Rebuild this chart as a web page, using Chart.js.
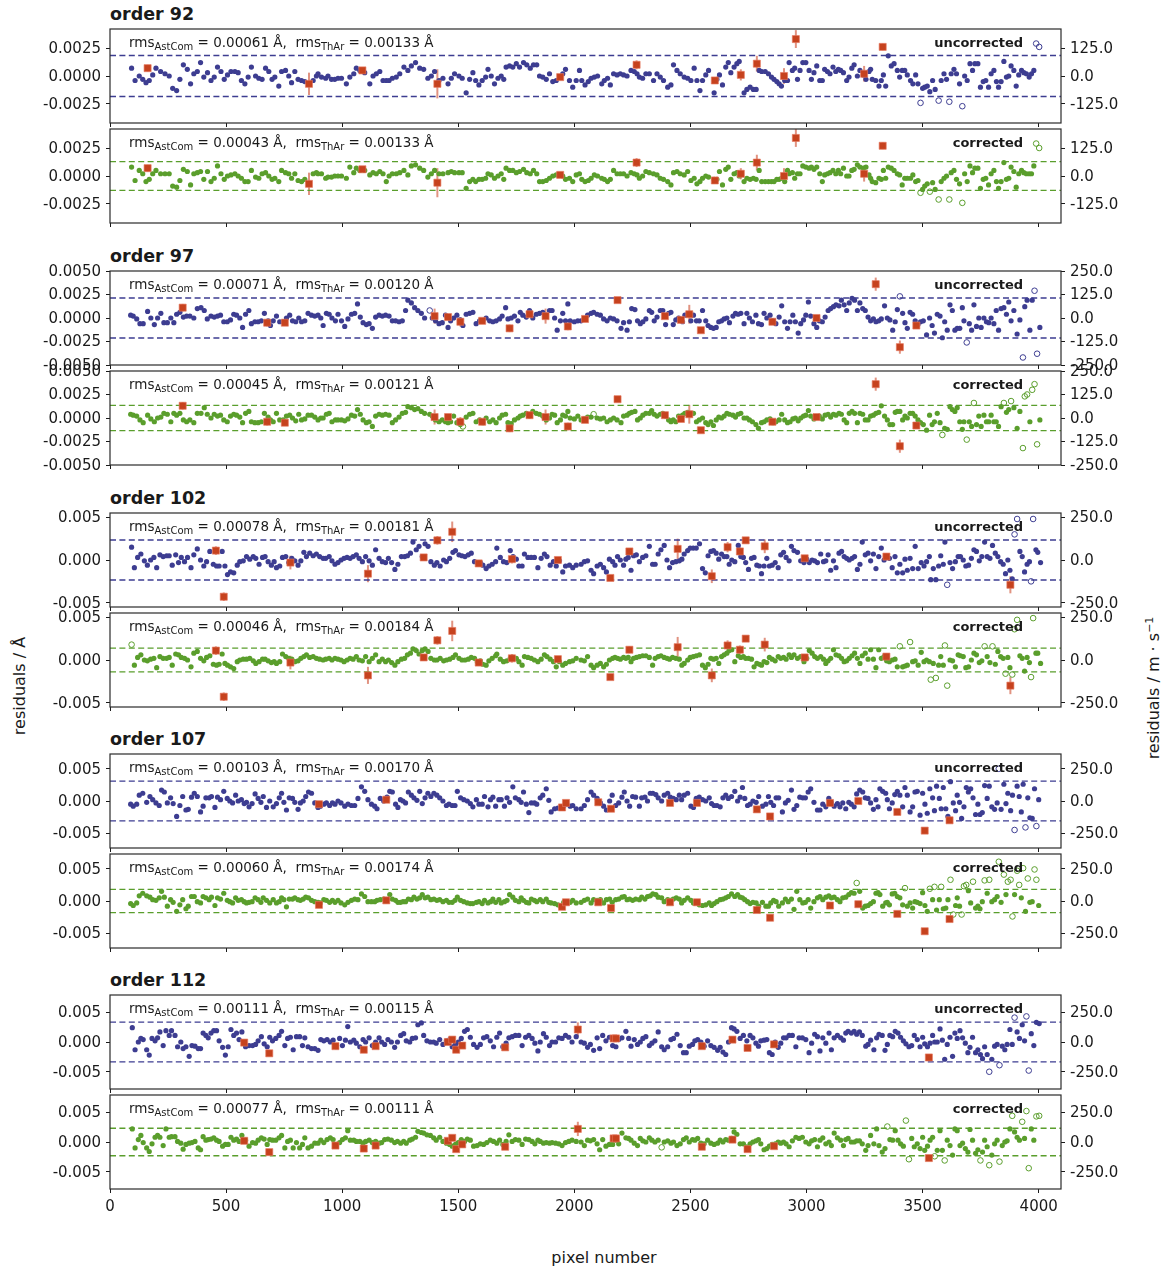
<!DOCTYPE html>
<html lang="en">
<head>
<meta charset="UTF-8">
<title>AstCom / ThAr wavelength residuals</title>
<script src="https://cdn.jsdelivr.net/npm/chart.js@4.4.0/dist/chart.umd.min.js"></script>
<style>
body { margin: 0; background: #fff; font-family: 'DejaVu Sans', sans-serif; color: #1a1a1a; }
#fig { position: relative; width: 1161px; height: 1270px; overflow: hidden; }
#fig canvas { position: absolute; left: 0; }
.order-title { position: absolute; left: 110px; font-weight: bold; font-size: 17.5px; line-height: 20px; white-space: nowrap; }
.ylab { position: absolute; font-size: 16px; line-height: 20px; white-space: nowrap; transform: translate(-50%, -50%) rotate(-90deg); }
.xlab { position: absolute; font-size: 16px; line-height: 20px; white-space: nowrap; transform: translateX(-50%); }
</style>
</head>
<body>
<div id="fig">
  <div class="ylab" style="left:20px; top:686px;">residuals / Å</div>
  <div class="ylab" style="left:1152px; top:688px;">residuals / m · s<sup style="font-size:11px">−1</sup></div>
  <div class="xlab" style="left:604px; top:1248px;">pixel number</div>
</div>

<script>
// ---- data --------------------------------------------------------------
// x in detector pixels, residuals in units of 1e-4 Å
const orders = [92, 97, 102, 107, 112];
const pixelTicks = [0, 500, 1000, 1500, 2000, 2500, 3000, 3500, 4000];
const rmsAstComUnc = [0.00061, 0.00071, 0.00078, 0.00103, 0.00111];
const rmsAstComCor = [0.00043, 0.00045, 0.00046, 0.00060, 0.00077];
const rmsThArUnc = [0.00133, 0.00120, 0.00181, 0.00170, 0.00115];
const rmsThArCor = [0.00133, 0.00121, 0.00184, 0.00174, 0.00111];
const yLimits = [0.0042, 0.0050, 0.0055, 0.0073, 0.0079];
const leftTicks = [
  [-0.0025, 0, 0.0025],
  [-0.005, -0.0025, 0, 0.0025, 0.005],
  [-0.005, 0, 0.005],
  [-0.005, 0, 0.005],
  [-0.005, 0, 0.005]
];
const leftDecimals = [4, 4, 3, 3, 3];
const rightTicks = [
  [-125, 0, 125],
  [-250, -125, 0, 125, 250],
  [-250, 0, 250],
  [-250, 0, 250],
  [-250, 0, 250]
];
const MS_PER_ANGSTROM = 50000;

// order 92
const ast92X = [93,108,126,141,155,169,184,198,218,237,255,270,287,301,316,333,347,361,376,390,
  404,420,435,449,463,478,492,506,521,538,552,566,581,595,609,627,641,655,670,684,
  698,710,727,739,756,770,782,796,810,825,839,875,889,896,911,929,939,954,968,982,
  997,1018,1033,1050,1061,1076,1097,1119,1133,1147,1162,1176,1190,1202,1216,1233,1248,1266,1283,1298,
  1316,1334,1351,1369,1384,1398,1417,1434,1456,1470,1484,1503,1517,1534,1549,1563,1575,1589,1603,1618,
  1628,1642,1656,1671,1685,1696,1706,1721,1735,1750,1764,1781,1795,1810,1824,1838,1850,1864,1879,1893,
  1907,1922,1950,1962,1979,1993,2008,2022,
  2032,2046,2060,2072,2086,2100,2118,2129,2143,2155,2169,2184,2198,2212,2227,2244,2258,2270,2280,2294,
  2308,2323,2341,2356,2370,2384,2402,2416,2427,2442,2456,2473,2488,2502,2516,2528,2541,2552,2566,2578,
  2602,2614,2625,2638,2652,2663,2674,2688,2700,2710,2731,2743,2757,2771,2783,2796,2807,2822,2836,2849,
  2860,2872,2882,2892,2906,2918,2925,2939,2949,2961,2972,2984,2997,3011,3021,3032,3044,3057,3068,3078,
  3090,3101,3114,3126,3137,3147,3159,3173,3183,3195,3205,3219,3230,3245,3256,3269,3276,3283,3298,3312,
  3322,3331,3341,3352,3365,3377,3391,3401,3412,3423,3434,3448,3458,3470,3480,3491,3500,3509,3520,3531,
  3543,3554,3569,3580,3592,3603,3615,3623,3635,3646,3659,3671,3681,3692,3704,3715,3725,3738,3749,3761,
  3772,3784,3795,3807,3818,3827,3838,3850,3861,3871,3881,3893,3903,3914,3926,3936,3947,3959,3969,3979,
  3989,4002];
const ast92Unc = [7,-4,0,-3,-6,-4,1,7,4,2,0,-11,-13,-3,10,6,-7,2,4,12,
  -1,3,-4,-1,8,4,-3,1,4,4,3,-4,-7,-1,8,0,-2,-3,7,4,
  -3,-1,-9,4,5,0,-6,4,-3,-4,-5,-4,0,2,-1,-2,0,-3,-3,-2,
  -2,-7,-1,2,7,5,3,-7,0,2,4,-4,-4,-4,-2,-1,2,8,5,9,
  12,7,6,-2,0,4,-4,-2,-7,-2,2,0,-2,-15,-3,3,-4,-8,-4,-1,
  6,0,-7,-2,0,-3,8,9,8,11,8,12,10,7,10,10,0,-1,-3,2,
  -5,-4,2,6,-4,-10,-4,5,
  -4,-8,-5,-2,-1,0,-7,-4,-2,-8,2,1,2,1,0,5,4,2,-1,-2,
  2,2,-4,2,-1,-4,-10,-8,10,5,2,-1,-2,-4,7,-4,-13,-4,1,5,
  -15,-3,1,-8,8,12,3,8,11,13,-15,-12,-10,-12,-12,5,4,4,2,-1,
  -3,-5,-7,-9,-4,-4,12,5,7,-3,5,12,12,5,-3,3,9,-4,-4,6,
  4,2,8,4,6,5,3,-4,-1,7,10,0,5,1,-3,4,6,-3,-4,-9,
  -4,1,-9,18,9,11,5,-1,5,5,1,-4,-7,1,-7,-24,-11,-10,-9,-14,
  -4,-12,-22,-4,2,-3,-23,2,6,2,-7,-27,0,-4,11,5,11,11,-10,-5,
  -4,-10,2,5,-5,-10,-5,13,-1,0,9,5,-9,1,5,3,2,-1,2,5,
  29,26];
const ast92Cor = [8,-4,5,2,-5,-3,2,5,2,2,2,-9,-10,-4,6,4,-8,2,3,4,
  -3,4,-5,-2,9,2,-3,0,1,2,0,-2,-5,-5,5,-1,-2,2,3,0,
  -3,-2,-5,5,3,2,-2,2,-4,-5,-3,2,3,2,2,-2,-1,-1,0,0,
  0,-2,8,3,7,5,5,1,3,2,4,2,-5,0,2,2,3,5,1,9,
  10,7,5,-1,2,5,2,2,3,4,3,3,3,-11,-5,-3,-5,-3,-3,-2,
  2,1,-2,0,2,-3,7,5,5,3,4,6,3,2,5,2,-5,-5,-4,-2,
  0,1,0,-3,-2,-5,1,2,
  -3,-5,-4,-2,1,0,-2,-3,-5,-3,5,2,2,2,0,3,2,1,-2,0,
  4,3,2,1,-2,-3,-5,-8,3,4,2,1,4,-4,-2,-7,-5,-2,0,-1,
  -3,-3,4,-8,6,8,-3,2,3,0,-5,-2,-3,-2,-3,5,-5,-5,-5,-5,
  -5,-3,-3,-2,-5,5,2,3,-2,2,2,9,8,7,8,6,8,2,-5,1,
  2,3,5,2,5,2,7,0,0,5,6,10,8,7,8,1,-2,-5,-6,-2,
  -3,5,-2,8,7,5,2,1,-8,-2,-2,-2,1,-5,-4,-15,-12,-9,-7,-14,
  -6,-12,-21,-5,-2,0,-21,3,5,-3,-7,-24,2,-5,9,3,7,7,-11,-3,
  -2,-8,2,5,-5,-11,-5,12,-3,-2,8,4,-10,2,5,3,2,2,2,9,
  29,25];
const thar92X   = [162, 857, 1087, 1410, 1939, 2268, 2605, 2717, 2786, 2903, 2954, 3248, 3328];
const thar92Unc = [7, -7, 5, -7, -1, 10, -4, 1, 11, 0, 33, 2, 26];
const thar92Cor = [7, -7, 6, -6, 1, 12, -4, 2, 12, 0, 34, 2, 27];
const thar92Err = [3, 10, 2, 13, 2, 4, 3, 5, 7, 7, 8, 7, 3];

// order 97
const ast97X = [89,100,115,129,143,162,176,191,205,219,232,247,262,275,287,301,316,330,344,361,
  376,392,406,419,435,449,463,476,490,505,519,533,545,559,571,584,598,609,624,638,
  652,665,681,691,703,717,731,746,760,774,786,800,813,825,839,853,868,882,896,908,
  918,932,944,956,971,982,997,1011,1025,1040,1054,1066,1078,1090,1104,1116,1130,1144,1159,1173,
  1187,1202,1216,1230,1245,1259,1273,1283,1298,1312,1326,1341,1355,1377,1388,1402,1417,1431,1445,1456,
  1467,1480,1494,1509,1520,1534,1549,1563,1577,1592,1606,1620,1635,1649,1663,1678,1689,1704,1714,1728,
  1742,1757,1767,1778,1793,1807,1821,1836,1850,1864,1879,1893,1904,1915,1926,1940,1950,1962,1972,1982,
  2000,2015,
  2029,2043,2057,2072,2083,2098,2112,2126,2141,2155,2169,2184,2201,2212,2227,2237,2247,2261,2272,2284,
  2295,2308,2323,2333,2344,2356,2370,2381,2393,2406,2416,2426,2437,2449,2466,2476,2488,2502,2513,2526,
  2538,2552,2566,2576,2588,2599,2611,2622,2634,2645,2657,2668,2683,2694,2705,2717,2731,2743,2754,2767,
  2782,2793,2806,2817,2829,2843,2855,2868,2882,2893,2906,2918,2929,2941,2952,2964,2975,2987,2997,3008,
  3018,3032,3044,3055,3068,3080,3093,3104,3116,3127,3140,3150,3162,3173,3184,3196,3207,3219,3230,3242,
  3253,3265,3276,3288,3299,3311,3322,3336,3348,3359,3371,3382,3391,3402,3414,3424,3434,3446,3457,3468,
  3480,3491,3503,3517,3530,3541,3551,3563,3575,3585,3595,3606,3618,3628,3639,3649,3660,3671,3678,3690,
  3701,3711,3721,3732,3742,3752,3764,3775,3785,3795,3807,3817,3827,3838,3850,3861,3871,3881,3893,3907,
  3919,3932,3940,3950,3962,3972,3982,3993,4005];
const ast97Unc = [3,2,-1,-6,-6,7,0,-7,0,5,-5,-5,0,-5,4,6,1,2,2,0,
  10,11,8,-1,2,1,2,3,-4,-4,-2,4,3,0,-10,4,8,-6,-4,-4,
  -3,5,-3,-8,-3,2,-4,-4,0,3,-3,-4,0,-4,-3,5,3,2,3,0,
  -8,5,4,0,-3,4,-3,-9,-1,4,5,15,1,-5,-7,-6,-11,1,3,2,
  3,2,-3,-3,-4,-3,8,19,16,11,8,5,0,8,0,-3,-6,-5,3,-10,
  -3,0,3,-2,-8,4,5,6,-6,-3,-3,0,-3,-4,-3,-1,2,11,-1,0,
  2,-3,6,3,1,8,0,4,5,6,3,8,8,0,-13,-3,5,-3,15,-3,
  -4,-3,
  -3,-1,3,5,6,4,3,-1,-3,0,-1,-3,-11,-5,-13,-4,10,9,-3,-6,
  -4,-1,8,6,-3,1,8,8,-7,5,6,-7,-2,0,-4,3,4,-3,3,-3,
  -3,8,-3,-8,-10,-11,-10,-4,-3,-1,0,-5,2,5,4,5,-6,5,0,-4,
  3,-6,-7,5,0,3,-3,-6,1,13,-4,-11,-4,3,-4,-16,-6,-2,3,17,
  2,-6,-10,-3,-4,1,8,10,12,14,13,19,14,8,16,21,19,8,16,10,
  8,1,-3,-1,-4,-3,-1,13,0,-2,-13,-4,9,23,5,-5,-11,6,4,-3,
  -7,-4,-3,-18,0,-8,-16,4,2,-21,-4,-13,14,8,-13,-11,-11,11,-3,-26,
  -6,-13,14,-9,0,-10,0,-4,-5,0,-6,8,-13,10,11,4,17,-3,8,-17,
  -2,-42,12,19,-13,19,29,-38,-10];
const ast97Cor = [4,3,2,-2,-5,3,-1,-4,0,1,5,4,-4,5,3,5,-2,-4,-2,-5,
  5,5,11,4,0,4,2,3,-2,-4,2,4,3,1,-5,5,7,-4,-5,-5,
  -4,5,1,-2,-4,5,-2,-2,2,3,0,-3,4,-2,-1,3,3,1,-2,0,
  0,4,5,-4,-2,-2,-2,-3,-1,3,2,9,4,-2,-5,-4,-9,2,4,3,
  4,3,-5,-2,1,5,6,12,11,9,10,7,5,4,2,-2,-4,-2,-4,-5,
  -4,2,-5,-7,-9,1,4,5,-4,-2,-5,0,-4,-2,-5,0,3,4,-5,-6,
  -2,0,2,3,5,2,7,5,4,2,-2,0,4,3,-5,-2,3,2,7,0,
  -1,2,
  -2,-1,1,1,4,0,-1,0,-4,-2,0,-2,-5,2,3,5,6,7,-2,0,
  3,5,5,8,4,2,4,5,2,-2,-4,-2,-4,2,3,5,6,5,5,-4,
  -2,0,-5,-7,-4,-8,-2,1,0,2,5,4,3,1,4,5,0,0,-2,-4,
  -7,-11,-5,-4,-2,-1,-5,-4,-2,4,-2,-5,-4,-1,0,-3,0,2,3,8,
  2,-1,1,2,-1,3,4,1,4,3,5,4,-2,-5,5,7,5,-5,5,4,
  -2,-2,2,3,5,6,13,2,-2,-7,-7,6,7,7,-2,2,0,5,5,2,
  -2,-5,-7,-13,3,-7,-4,5,-5,-18,-11,-12,12,9,7,11,-4,-12,-4,-23,
  -4,-9,16,-7,2,-9,3,-4,-4,3,-4,-4,-9,12,16,6,9,18,11,-11,
  7,-32,23,25,-4,30,36,-28,-2];
const thar97X   = [313, 677, 753, 1398, 1456, 1509, 1603, 1721, 1807, 1876, 1972, 2046, 2186, 2390, 2459, 2495, 2545, 2853, 3043, 3298, 3402, 3473];
const thar97Unc = [11, -5, -5, 2, 1, -4, -3, -11, 4, 2, -9, -1, 19, 2, -2, 4, -13, -4, 0, 36, -31, -8];
const thar97Cor = [13, -4, -5, 1, 1, -4, -4, -11, 3, 1, -9, -2, 20, 3, -1, 4, -13, -4, 1, 36, -30, -8];
const thar97Err = [4, 4, 2, 8, 2, 5, 2, 4, 2, 8, 4, 2, 2, 2, 2, 10, 2, 2, 2, 7, 7, 2];

// order 102
const ast102X = [93,105,119,133,148,161,175,189,201,215,229,244,255,268,283,295,307,321,334,349,
  361,376,390,404,416,430,445,459,470,483,495,506,519,533,548,559,574,588,602,617,
  628,642,657,668,681,695,707,717,731,743,757,770,783,796,810,822,835,846,860,875,
  889,903,918,929,944,956,969,982,995,1008,1021,1034,1047,1061,1073,1087,1101,1116,1130,1144,
  1159,1173,1187,1199,1213,1227,1240,1255,1269,1281,1294,1305,1319,1331,1345,1357,1370,1382,1397,1408,
  1422,1437,1449,1463,1477,1488,1503,1516,1529,1543,1556,1570,1582,1595,1606,1620,1632,1646,1661,1666,
  1681,1695,1709,1724,1736,1750,1761,1775,1785,1800,1814,1828,1843,1857,1871,1882,1896,1910,1922,1936,
  1950,1962,1979,1993,2008,
  2029,2043,2057,2072,2083,2098,2112,2126,2138,2151,2165,2175,2186,2198,2212,2222,2232,2244,2255,2267,
  2280,2294,2308,2323,2337,2348,2361,2373,2387,2399,2410,2423,2437,2452,2463,2473,2488,2499,2512,2525,
  2539,2552,2564,2576,2588,2599,2611,2622,2634,2645,2657,2667,2678,2691,2706,2717,2728,2738,2750,2763,
  2774,2786,2797,2806,2817,2829,2840,2852,2865,2878,2889,2901,2912,2925,2935,2946,2961,2975,2989,3001,
  3012,3024,3035,3047,3061,3073,3083,3093,3104,3116,3127,3140,3151,3162,3173,3184,3196,3207,3219,3230,
  3240,3253,3265,3276,3288,3299,3311,3322,3334,3345,3357,3369,3381,3391,3402,3414,3424,3434,3446,3457,
  3468,3481,3494,3506,3517,3529,3535,3546,3557,3569,3578,3589,3596,3606,3618,3629,3641,3653,3663,3675,
  3686,3698,3710,3721,3732,3744,3755,3767,3778,3790,3801,3813,3824,3836,3847,3857,3867,3876,3886,3896,
  3907,3919,3929,3939,3950,3960,3967,3976,3988,3996,4008];
const ast102Unc = [15,-9,3,7,-1,-6,0,3,-9,6,4,5,5,-6,6,-3,3,-2,3,-9,
  6,13,0,-7,-2,10,-5,-7,-7,10,-7,-17,-14,-15,-6,-2,-1,4,1,4,
  2,-5,3,4,-2,-6,-2,-9,-7,3,4,-3,2,-1,-6,-1,9,4,8,5,
  7,4,2,2,4,-1,-5,-3,0,2,3,2,4,6,2,-2,4,-1,-6,12,
  2,-2,-3,2,-3,-11,-5,4,4,5,8,21,12,16,4,19,16,-2,-6,-3,
  -7,0,-2,2,9,11,6,5,4,6,8,-2,-3,-3,-6,-10,-7,-5,-2,14,
  3,-2,-3,11,4,1,-7,-7,7,3,3,3,-9,2,7,4,-6,-2,-7,-1,
  -14,-7,-6,-9,-6,
  -5,-2,-1,-12,-16,-7,-5,-9,-14,1,-2,-6,4,0,-6,1,3,-12,5,6,
  -2,3,5,16,-5,-5,7,12,17,0,-9,-3,-2,-1,1,7,11,14,14,14,
  19,-10,-15,5,10,11,8,1,7,4,4,-5,0,-2,17,4,3,-3,-11,2,
  3,-6,-7,-16,-7,2,-7,-6,-3,-9,6,9,3,-1,16,11,9,-1,-3,1,
  -3,0,-1,-3,7,-2,-1,6,-12,-1,-9,8,10,4,2,0,2,4,-11,-5,
  21,6,8,-1,7,-10,4,14,0,4,2,-9,4,-15,-5,-15,1,-12,2,-10,
  16,-10,-3,-7,-2,4,-23,-10,-23,-7,5,-5,21,-29,-3,-10,-2,4,4,0,
  -7,-6,2,12,10,-1,4,21,4,2,17,8,4,-2,-5,-16,0,-12,-22,30,
  48,10,4,-14,-5,-2,-25,48,12,9,-3];
const ast102Cor = [18,-6,3,6,0,-1,1,2,-9,4,2,2,3,-6,7,6,3,2,0,-8,
  8,10,2,-1,3,5,-5,-6,-5,7,-4,-6,-8,-10,-2,0,1,1,2,-1,
  -4,-2,1,1,-1,-3,-2,-4,-2,7,4,2,1,-2,-1,2,4,6,3,4,
  2,1,0,1,2,0,2,1,0,-2,0,2,1,4,0,-1,4,-2,2,6,
  -2,1,-2,0,-3,-6,-2,1,2,6,8,13,11,7,11,13,10,2,0,0,
  2,-1,0,1,3,6,2,0,0,1,3,2,-2,-1,-5,-6,-1,2,5,7,
  1,-2,-1,2,3,2,-2,-6,4,3,2,0,-2,1,6,4,1,-2,-8,-2,
  -6,-4,-2,-1,2,
  0,-1,4,-6,-9,-6,-4,-8,-5,0,2,3,2,1,3,2,3,-2,2,3,
  4,5,5,3,-6,2,4,5,3,2,1,3,2,1,-6,-4,0,3,4,5,
  6,-6,-9,-5,2,1,2,-4,4,6,8,11,12,-2,5,3,4,2,2,1,
  -8,-4,-5,-6,-2,-3,3,1,-1,4,2,3,1,6,3,6,2,4,-2,2,
  11,8,4,2,4,1,-4,-1,2,12,6,5,2,-2,-1,2,5,8,2,-4,
  5,8,1,12,1,-9,12,2,4,-1,-2,0,1,-8,16,-8,-7,-6,21,-2,
  -1,-6,9,-2,0,-2,-23,-4,-21,-6,4,-6,17,-30,0,-1,-8,6,5,4,
  -9,-8,0,8,6,-3,-1,16,4,-3,16,-5,10,4,2,-16,3,-9,-17,36,
  47,5,2,-13,3,-3,-20,49,8,8,-4];
const thar102X   = [456, 490, 777, 1111, 1351, 1410, 1474, 1588, 1731, 1929, 2155, 2237, 2445, 2592, 2660, 2713, 2738, 2820, 2992, 3344, 3878];
const thar102Unc = [11, -43, -3, -16, 3, 23, 33, -4, 1, 0, -21, 10, 13, -19, 15, 10, 23, 16, 2, 4, -29];
const thar102Cor = [11, -43, -3, -18, 3, 23, 34, -3, 2, 1, -20, 12, 15, -18, 17, 12, 25, 18, 3, 4, -30];
const thar102Err = [5, 5, 8, 10, 2, 5, 12, 2, 5, 2, 2, 4, 12, 8, 6, 5, 3, 8, 2, 4, 10];

// order 107
const ast107X = [89,100,115,126,141,158,172,184,198,212,222,234,247,261,272,287,301,313,327,337,
  351,363,376,390,401,413,427,437,452,463,476,490,505,516,528,541,552,566,578,588,
  599,612,625,638,650,660,674,688,703,717,729,739,749,760,772,786,796,810,820,832,
  843,855,868,882,896,906,921,932,946,958,969,982,995,1011,1025,1040,1054,1068,1083,1097,
  1111,1126,1140,1150,1164,1179,1193,1205,1216,1230,1240,1251,1262,1273,1285,1298,1309,1322,1334,1345,
  1357,1369,1382,1395,1408,1420,1434,1449,1460,1474,1486,1496,1510,1524,1539,1552,1563,1578,1589,1603,
  1613,1628,1639,1649,1661,1675,1685,1699,1710,1721,1735,1746,1761,1771,1781,1793,1804,1815,1828,1838,
  1853,1864,1879,1890,1900,1915,1929,1940,1954,1967,1982,1993,2008,
  2029,2043,2057,2072,2083,2098,2112,2126,2138,2152,2163,2178,2191,2205,2215,2227,2238,2251,2264,2280,
  2290,2304,2315,2327,2338,2351,2361,2376,2387,2402,2413,2426,2439,2452,2462,2473,2488,2502,2513,2525,
  2538,2552,2566,2581,2591,2602,2614,2628,2640,2652,2663,2677,2691,2703,2714,2724,2734,2746,2757,2769,
  2783,2794,2810,2825,2836,2846,2858,2869,2880,2896,2909,2921,2935,2946,2958,2971,2984,2995,3007,3018,
  3032,3047,3058,3070,3083,3096,3107,3119,3133,3144,3156,3169,3182,3193,3205,3216,3229,3242,3253,3265,
  3276,3288,3299,3308,3316,3328,3341,3348,3357,3369,3380,3391,3402,3414,3424,3434,3446,3457,3467,3477,
  3489,3500,3510,3520,3531,3543,3551,3560,3572,3580,3589,3600,3609,3620,3632,3642,3649,3659,3668,3678,
  3688,3697,3707,3717,3728,3738,3747,3757,3767,3778,3787,3798,3810,3821,3828,3838,3850,3859,3867,3879,
  3887,3896,3907,3916,3925,3933,3943,3953,3962,3972,3982,3990,4000];
const ast107Unc = [-5,-8,-5,9,12,-2,7,2,-3,-7,17,14,-3,5,-4,-24,-7,7,-14,-13,
  6,12,7,-17,-8,5,5,7,-10,6,2,15,4,0,-3,9,0,2,-4,-2,
  -9,-4,11,4,-2,7,-10,0,-9,-4,5,12,-2,-14,5,4,-2,-13,-3,0,
  7,14,12,-3,-10,-8,-5,-3,-7,-3,-5,0,-3,-8,-5,-7,-7,4,22,15,
  2,-5,-8,-12,4,0,6,15,14,-5,-10,2,0,-3,14,9,5,1,15,-4,
  5,12,7,12,9,5,0,-7,-5,-7,-7,15,5,2,0,-4,-9,2,-5,-5,
  7,-9,2,6,-8,2,2,-8,5,-2,22,5,2,-2,14,-5,-18,-3,-3,-5,
  5,9,19,1,-17,-12,-11,-11,-8,-5,-8,-7,-12,
  -12,-7,2,14,9,4,-3,-8,-14,0,9,-7,-3,6,14,0,-8,7,6,-8,
  5,6,0,12,12,10,5,0,9,12,6,4,2,9,2,9,12,-8,-10,4,
  6,2,0,5,-4,-7,-7,-9,5,9,4,7,15,0,6,21,4,-7,-5,0,
  -2,7,-8,-5,7,-2,-7,5,5,-17,-3,1,17,-13,-7,6,5,5,14,19,
  -2,-14,-14,-5,-9,4,-2,-8,-4,-9,-3,-12,-2,-5,-9,11,17,14,5,4,
  -3,-13,2,-9,19,15,12,2,-12,-3,10,15,9,-9,21,9,-17,-9,14,15,
  -22,12,-5,-19,19,5,-15,23,4,-12,21,-12,-24,30,-3,-15,9,-2,-27,-9,
  21,14,19,5,-21,-5,-21,-18,24,4,23,-9,-13,-3,50,-13,26,-4,12,-15,
  9,-45,23,7,-17,26,-41,5,-26,-27,19,-39,2];
const ast107Cor = [-4,-7,-3,8,12,8,6,2,1,5,15,6,-8,2,-2,-16,-6,2,-12,-8,
  7,7,-1,-3,7,5,2,6,-7,5,3,12,1,-1,-3,5,1,2,-1,-3,
  -2,-1,5,2,-2,5,1,-3,2,-3,-1,5,2,-9,3,3,5,2,1,3,
  6,5,1,-1,-2,-3,2,1,-2,1,-2,1,-3,-6,-2,1,3,2,11,7,
  -1,-1,-1,1,2,3,2,10,3,1,-2,-2,-1,-1,3,2,6,3,5,10,
  5,6,2,3,1,2,-1,1,-2,-2,1,6,1,-1,-3,-4,-4,-2,-1,-4,
  1,-3,-1,3,-2,2,-3,-1,1,10,6,1,-1,5,1,-2,-3,3,1,-1,
  2,-1,3,-2,-3,-4,-6,-8,-2,-1,-2,1,-3,
  -2,1,3,-3,2,1,2,-3,2,3,-2,2,3,6,7,2,3,1,3,2,
  6,3,7,8,11,10,6,5,-1,2,1,3,5,3,-3,1,5,1,-3,-1,
  -6,-7,-6,-3,-7,-4,-1,2,3,5,7,11,7,10,6,5,2,-1,-4,-2,
  -3,-8,-2,-8,-8,-3,1,-1,-8,-3,3,-1,3,-13,15,2,-3,-2,2,-11,
  -1,5,7,2,6,8,5,6,2,-1,5,6,10,13,12,28,15,-11,-8,-7,
  -4,-1,12,13,10,-8,-3,-2,-6,11,12,7,5,-6,20,-8,-3,-11,-1,-2,
  -4,13,-7,-16,19,2,22,-14,2,22,-12,-11,2,33,-21,-7,5,-8,-21,23,
  25,16,-3,30,-11,-8,-12,-1,32,12,33,-1,2,7,61,-2,41,10,30,33,
  -24,10,47,25,5,51,-16,35,-2,-1,49,33,-7];
const thar107X   = [900, 1190, 1947, 1964, 2103, 2158, 2412, 2528, 2786, 2843, 3101, 3223, 3391, 3509, 3616];
const thar107Unc = [-5, 2, -10, -3, -2, -12, -3, -3, -13, -24, -3, 0, -17, -46, -30];
const thar107Cor = [-6, 1, -9, -2, -2, -11, -2, -2, -14, -26, -7, -5, -20, -47, -28];
const thar107Err = [2, 5, 2, 2, 2, 2, 2, 2, 2, 2, 2, 2, 2, 4, 2];

// order 112
const ast112X = [96,108,122,133,143,158,169,181,194,205,215,229,241,255,265,280,291,305,315,327,
  341,353,366,380,390,401,413,423,435,447,459,470,485,497,509,521,533,545,556,568,
  584,599,614,627,638,652,664,677,688,700,714,728,739,753,765,777,789,803,817,829,
  839,853,868,882,896,908,921,935,949,961,975,989,1001,1014,1024,1035,1050,1061,1076,1090,
  1101,1116,1130,1144,1159,1170,1183,1197,1212,1226,1238,1252,1265,1276,1291,1302,1316,1326,1341,1351,
  1365,1380,1394,1405,1420,1434,1449,1463,1474,1488,1500,1513,1527,1539,1552,1566,1581,1595,1609,1623,
  1638,1652,1666,1678,1692,1706,1718,1732,1746,1761,1775,1790,1804,1818,1830,1843,1853,1867,1879,1893,
  1904,1919,1933,1947,1962,1976,1990,2008,
  2029,2043,2057,2069,2083,2098,2109,2122,2136,2151,2165,2179,2191,2205,2222,2234,2244,2258,2272,2284,
  2295,2308,2323,2334,2347,2361,2376,2387,2402,2416,2427,2442,2456,2470,2482,2495,2509,2519,2531,2545,
  2559,2574,2588,2602,2617,2628,2640,2652,2664,2677,2688,2700,2714,2728,2743,2757,2769,2782,2793,2803,
  2817,2829,2840,2852,2865,2878,2889,2901,2912,2925,2939,2954,2968,2982,2997,3011,3022,3035,3047,3058,
  3070,3083,3097,3107,3119,3133,3147,3159,3169,3179,3193,3205,3216,3228,3240,3255,3265,3276,3290,3302,
  3312,3326,3338,3348,3359,3371,3382,3394,3405,3417,3428,3441,3453,3464,3477,3489,3500,3509,3521,3532,
  3543,3552,3563,3575,3585,3595,3606,3618,3629,3639,3649,3661,3672,3684,3695,3704,3715,3728,3738,3749,
  3758,3767,3778,3787,3798,3810,3821,3831,3843,3854,3864,3876,3886,3896,3907,3917,3929,3939,3947,3957,
  3968,3979,3990,4002];
const ast112Unc = [24,-13,0,6,4,-13,-22,6,2,7,17,-6,19,11,19,11,-8,0,-11,-8,
  -24,-6,-7,-11,-11,15,11,7,15,19,19,2,-9,-22,-8,21,11,15,4,17,
  -8,-6,-6,-4,2,9,-3,-8,8,2,6,11,18,-6,6,8,-13,9,9,-6,
  7,-8,-11,-11,-14,4,2,4,0,3,-8,6,-6,3,26,0,3,-2,-8,4,
  0,7,-6,0,7,0,-4,4,0,-9,0,11,14,2,0,6,7,29,32,11,
  2,0,0,-2,4,-4,2,4,-8,-4,0,6,18,21,8,-4,-9,-4,7,9,
  2,-8,8,15,-8,-2,7,9,11,11,-6,8,11,6,-2,-15,0,14,8,-6,
  0,0,7,6,11,8,0,9,
  0,-2,-9,-4,-14,7,-11,11,2,8,-6,-8,4,7,18,6,-7,4,-4,0,
  6,9,-6,-2,2,17,-8,-13,-8,4,6,13,-6,-18,-18,-7,-4,2,4,0,
  -7,2,-6,-9,-14,-9,-17,-21,0,24,22,18,6,11,2,11,7,-2,-7,2,
  3,4,-18,-21,0,-9,-2,7,7,11,11,-8,7,7,4,-18,-2,13,9,-15,
  7,-2,15,-13,7,11,7,3,15,18,15,18,13,17,11,-7,-4,3,-13,7,
  13,11,-14,-4,11,9,18,15,8,2,-3,-8,-6,11,4,-8,8,-3,-8,-2,
  11,0,0,22,3,-29,-4,8,-24,15,6,19,7,-2,-18,-9,8,-18,-13,-21,
  -28,-8,-21,-50,-29,-7,-4,-39,-7,-13,-4,21,-4,41,17,6,29,2,43,-48,
  14,-6,33,31];
const ast112Cor = [22,-10,4,11,-1,-10,-16,-3,8,11,8,-6,22,8,9,9,1,-2,-12,-4,
  -2,-1,1,-10,-13,9,3,4,5,7,3,1,-7,-4,-4,8,3,5,1,11,
  3,-7,-1,-2,3,7,5,-4,4,3,3,7,11,-10,1,3,-10,-1,-10,-4,
  7,-10,-7,-2,-2,3,-1,4,7,4,-4,-1,4,7,19,3,3,1,1,-2,
  1,3,-1,1,-2,-1,4,5,3,-1,1,-2,1,-2,3,5,8,18,16,15,
  12,11,7,3,8,1,-2,-4,-7,-4,-1,4,1,5,3,-7,-6,-3,-4,-1,
  3,1,-2,3,-4,1,12,1,4,3,-4,5,4,1,-3,3,1,-2,-1,-2,
  -1,-2,-3,-6,-1,1,3,1,
  0,-6,3,2,4,-3,-13,4,-7,-4,-4,3,-3,15,7,6,3,-2,-6,6,
  2,0,7,3,0,3,-9,0,2,-2,0,-6,-3,4,7,0,4,3,6,-2,
  -3,3,-2,-4,-2,3,0,4,3,6,17,13,-3,-3,-8,-3,0,2,4,-3,
  -13,-11,-7,-4,-3,0,-2,0,-3,-8,2,8,6,8,0,-3,2,4,-8,3,
  7,-3,0,-6,15,7,3,-6,4,6,0,0,2,2,-3,-14,-6,11,-3,22,
  -6,-17,-11,26,4,3,19,3,-3,-7,36,-29,6,-8,-3,-11,8,-14,-7,3,
  8,-24,-14,19,-14,-31,3,-6,-22,22,19,-6,-2,-11,-17,21,3,-19,-13,-31,
  -17,3,-8,-39,-22,-3,3,-33,-6,0,2,22,44,17,8,3,34,6,52,-44,
  22,3,43,44];
const thar112X   = [578, 686, 971, 1093, 1144, 1455, 1474, 1491, 1517, 1702, 2015, 2169, 2179, 2549, 2681, 2746, 2860, 3527];
const thar112Unc = [-1, -19, -7, -13, -7, 0, 4, -13, -6, -9, 21, 6, 6, -7, 4, -10, -4, -26];
const thar112Cor = [2, -17, -6, -11, -6, 2, 7, -12, -4, -8, 22, 6, 6, -8, 4, -12, -7, -27];
const thar112Err = [2, 2, 2, 3, 2, 2, 2, 2, 2, 4, 12, 5, 2, 2, 2, 2, 2, 2];

// lines rejected by the fit although inside 3 sigma (drawn open)
const rejectedUnc = [[], [1377], [], [], []];
const rejectedCor = [[], [1520, 2083], [], [], [2376]];

const astX = [ast92X, ast97X, ast102X, ast107X, ast112X];
const astUnc = [ast92Unc, ast97Unc, ast102Unc, ast107Unc, ast112Unc];
const astCor = [ast92Cor, ast97Cor, ast102Cor, ast107Cor, ast112Cor];
const tharX = [thar92X, thar97X, thar102X, thar107X, thar112X];
const tharUnc = [thar92Unc, thar97Unc, thar102Unc, thar107Unc, thar112Unc];
const tharCor = [thar92Cor, thar97Cor, thar102Cor, thar107Cor, thar112Cor];
const tharErr = [thar92Err, thar97Err, thar102Err, thar107Err, thar112Err];
const UNIT = 1e-4;

// ---- layout / style -----------------------------------------------------
const W = 1161;
const PANEL_TOP = [29, 271, 513, 754, 995];
const PANEL_H = 94, PANEL_STEP = 100, PAD_T = 16;
const X_MAX = 4096;
const BLUE = '#3d3d91', GREEN = '#5a9e2c', RED = '#c6421e', RED_BAR = 'rgba(205,75,45,0.6)';
const INK = '#1a1a1a';

Chart.defaults.font.family = "'DejaVu Sans', sans-serif";
Chart.defaults.color = INK;

const fig = document.getElementById('fig');

const framePlugin = {
  id: 'frame',
  afterDraw(chart) {
    const { ctx, chartArea: a } = chart;
    ctx.save();
    ctx.strokeStyle = '#2a2a2a';
    ctx.lineWidth = 1.2;
    ctx.strokeRect(a.left, a.top, a.right - a.left, a.bottom - a.top);
    ctx.restore();
  }
};

const errorBarPlugin = {
  id: 'errorBars',
  beforeDatasetsDraw(chart) {
    const ds = chart.data.datasets[0];
    const xs = chart.scales.x, ys = chart.scales.y;
    const ctx = chart.ctx;
    ctx.save();
    ctx.strokeStyle = RED_BAR;
    ctx.lineWidth = 2;
    ds.data.forEach((p, k) => {
      const px = xs.getPixelForValue(p.x);
      ctx.beginPath();
      ctx.moveTo(px, ys.getPixelForValue(p.y + ds.errors[k]));
      ctx.lineTo(px, ys.getPixelForValue(p.y - ds.errors[k]));
      ctx.stroke();
    });
    ctx.restore();
  }
};

function textPlugin(i, corrected) {
  const rA = corrected ? rmsAstComCor[i] : rmsAstComUnc[i];
  const rT = corrected ? rmsThArCor[i] : rmsThArUnc[i];
  return {
    id: 'panelText',
    afterDraw(chart) {
      const { ctx, chartArea: a } = chart;
      ctx.save();
      ctx.fillStyle = INK;
      ctx.textBaseline = 'alphabetic';
      let x = a.left + 19;
      const y = a.top + 18;
      const parts = [
        ['rms', false], ['AstCom', true],
        [' = ' + rA.toFixed(5) + ' Å,  rms', false], ['ThAr', true],
        [' = ' + rT.toFixed(5) + ' Å', false]
      ];
      parts.forEach(([t, sub]) => {
        ctx.font = sub ? "10px 'DejaVu Sans'" : "13.5px 'DejaVu Sans'";
        ctx.fillText(t, x, sub ? y + 3 : y);
        x += ctx.measureText(t).width;
      });
      ctx.font = "bold 13px 'DejaVu Sans'";
      ctx.textAlign = 'right';
      ctx.fillText(corrected ? 'corrected' : 'uncorrected', a.right - 38, y);
      ctx.restore();
    }
  };
}

function fixedTicks(values) {
  return scale => { scale.ticks = values.map(v => ({ value: v })); };
}

function makePanel(i, corrected) {
  const top = PANEL_TOP[i] + (corrected ? PANEL_STEP : 0);
  const isLast = i === orders.length - 1 && corrected;
  const padB = isLast ? 40 : 16;
  const canvas = document.createElement('canvas');
  canvas.width = W;
  canvas.height = PAD_T + PANEL_H + padB;
  canvas.style.top = (top - PAD_T) + 'px';
  fig.appendChild(canvas);

  const col = corrected ? GREEN : BLUE;
  const ys = corrected ? astCor[i] : astUnc[i];
  const rms = corrected ? rmsAstComCor[i] : rmsAstComUnc[i];
  const limit = 3 * rms;
  const rejected = corrected ? rejectedCor[i] : rejectedUnc[i];
  const good = [], bad = [];
  astX[i].forEach((x, k) => {
    const p = { x: x, y: ys[k] * UNIT };
    if (Math.abs(p.y) > limit || rejected.includes(x)) bad.push(p); else good.push(p);
  });
  const thY = corrected ? tharCor[i] : tharUnc[i];
  const thar = tharX[i].map((x, k) => ({ x: x, y: thY[k] * UNIT }));
  const errs = tharErr[i].map(e => e * UNIT);

  const yLim = yLimits[i];
  const dec = leftDecimals[i];
  const gridOpts = { drawOnChartArea: false, drawTicks: true, tickLength: 4, tickWidth: 1, tickColor: INK };

  new Chart(canvas, {
    type: 'scatter',
    data: {
      datasets: [
        { data: thar, errors: errs, pointStyle: 'rect', pointRadius: 5, backgroundColor: RED,
          borderColor: 'rgba(230,120,95,0.8)', borderWidth: 0.8, order: 0 },
        { data: good, pointRadius: 2.6, backgroundColor: col, borderWidth: 0, order: 1 },
        { data: bad, pointRadius: 2.8, backgroundColor: 'rgba(255,255,255,0)', borderColor: col, borderWidth: 1, order: 2 },
        { data: [{ x: 0, y: limit }, { x: X_MAX, y: limit }], showLine: true, borderColor: col,
          borderWidth: 1.3, borderDash: [6, 3.4], pointRadius: 0, order: 3 },
        { data: [{ x: 0, y: -limit }, { x: X_MAX, y: -limit }], showLine: true, borderColor: col,
          borderWidth: 1.3, borderDash: [6, 3.4], pointRadius: 0, order: 3 }
      ]
    },
    options: {
      responsive: false,
      animation: false,
      devicePixelRatio: 1,
      layout: { padding: { top: PAD_T, bottom: 0, left: 0, right: 0 } },
      plugins: { legend: { display: false }, tooltip: { enabled: false } },
      scales: {
        x: {
          type: 'linear', min: 0, max: X_MAX, position: 'bottom',
          afterBuildTicks: fixedTicks(pixelTicks),
          afterFit: s => { s.height = padB; },
          ticks: { display: isLast, font: { size: 15 }, padding: 5, maxRotation: 0, autoSkip: false,
                   callback: v => String(v) },
          grid: gridOpts,
          border: { display: false }
        },
        y: {
          type: 'linear', position: 'left', min: -yLim, max: yLim,
          afterBuildTicks: fixedTicks(leftTicks[i]),
          afterFit: s => { s.width = 110; },
          ticks: { font: { size: 15 }, padding: 5, labelOffset: 1, autoSkip: false, callback: v => v.toFixed(dec) },
          grid: gridOpts,
          border: { display: false }
        },
        y2: {
          type: 'linear', position: 'right', display: true,
          min: -yLim * MS_PER_ANGSTROM, max: yLim * MS_PER_ANGSTROM,
          afterBuildTicks: fixedTicks(rightTicks[i]),
          afterFit: s => { s.width = W - 1061; },
          ticks: { font: { size: 15 }, padding: 5, labelOffset: 1, autoSkip: false, callback: v => v.toFixed(1) },
          grid: gridOpts,
          border: { display: false }
        }
      }
    },
    plugins: [errorBarPlugin, framePlugin, textPlugin(i, corrected)]
  });
}

orders.forEach((ord, i) => {
  const t = document.createElement('div');
  t.className = 'order-title';
  t.style.top = (PANEL_TOP[i] - 25) + 'px';
  t.textContent = 'order ' + ord;
  fig.appendChild(t);
  makePanel(i, false);
  makePanel(i, true);
});
</script>
</body>
</html>
